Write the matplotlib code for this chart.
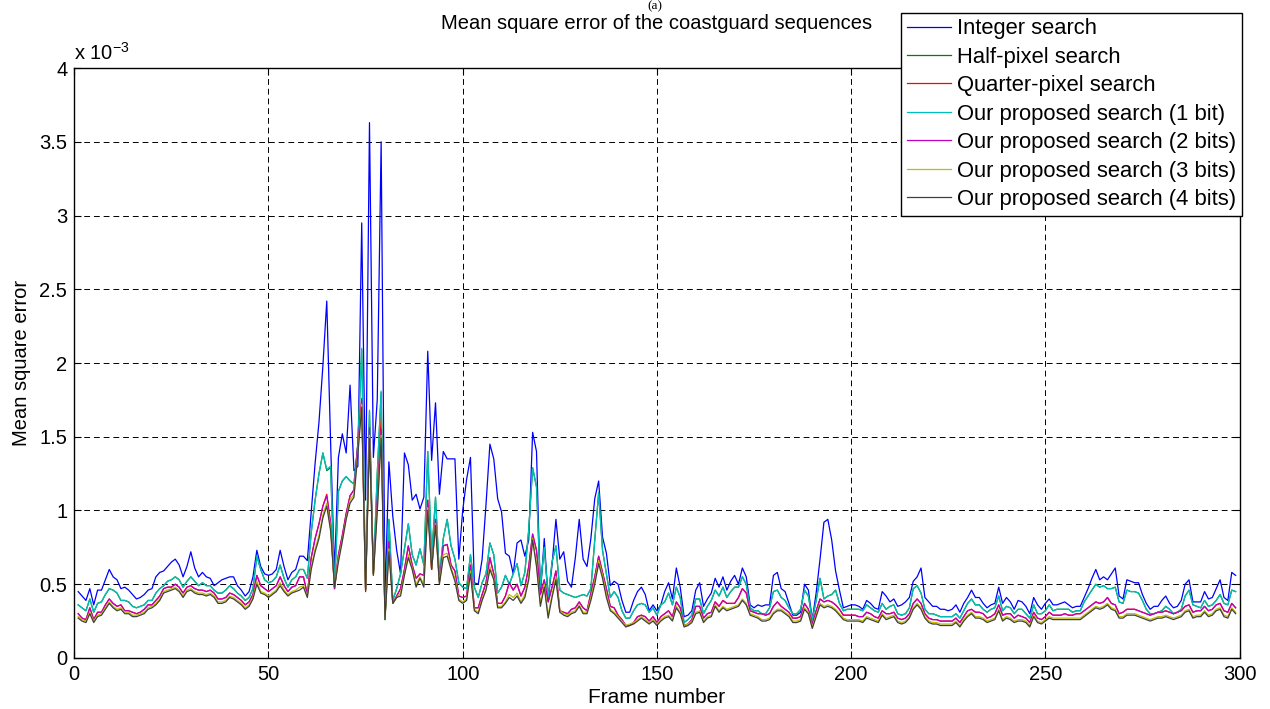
import matplotlib as mpl
mpl.use('Agg')
import matplotlib.pyplot as plt

plt.rcParams['font.family'] = ['Liberation Sans', 'DejaVu Sans']

# frame index (1..299), MSE values in units of 1e-3
frames = list(range(1, 300))

integer_search = [
    0.45, 0.42, 0.39, 0.47, 0.36, 0.46, 0.46, 0.53, 0.60, 0.55,
    0.53, 0.47, 0.48, 0.46, 0.43, 0.40, 0.41, 0.43, 0.46, 0.47,
    0.55, 0.58, 0.59, 0.62, 0.65, 0.67, 0.63, 0.55, 0.62, 0.72,
    0.61, 0.55, 0.58, 0.55, 0.54, 0.49, 0.51, 0.53, 0.54, 0.55,
    0.55, 0.49, 0.46, 0.42, 0.45, 0.55, 0.73, 0.62, 0.57, 0.56,
    0.57, 0.60, 0.73, 0.62, 0.53, 0.58, 0.60, 0.69, 0.69, 0.66,
    0.99, 1.32, 1.60, 1.98, 2.42, 1.45, 0.58, 1.36, 1.52, 1.39,
    1.85, 1.27, 1.30, 2.95, 1.07, 3.63, 1.36, 1.75, 3.50, 0.40,
    1.33, 0.96, 0.73, 0.57, 1.39, 1.31, 1.07, 1.11, 1.01, 1.09,
    2.08, 1.34, 1.73, 1.11, 1.40, 1.35, 1.35, 1.35, 0.67, 1.00,
    1.21, 1.36, 0.51, 0.50, 0.67, 1.04, 1.45, 1.35, 1.08, 0.99,
    0.71, 0.69, 0.57, 0.78, 0.80, 0.69, 0.80, 1.53, 1.40, 0.43,
    0.81, 0.39, 0.63, 0.94, 0.67, 0.72, 0.52, 0.48, 0.68, 0.94,
    0.67, 0.62, 0.81, 1.08, 1.20, 0.82, 0.71, 0.49, 0.52, 0.50,
    0.39, 0.31, 0.31, 0.39, 0.45, 0.48, 0.43, 0.32, 0.36, 0.32,
    0.36, 0.45, 0.51, 0.40, 0.61, 0.48, 0.28, 0.29, 0.32, 0.46,
    0.51, 0.35, 0.40, 0.44, 0.54, 0.48, 0.55, 0.46, 0.52, 0.56,
    0.50, 0.61, 0.55, 0.36, 0.34, 0.36, 0.35, 0.36, 0.36, 0.56,
    0.58, 0.47, 0.45, 0.37, 0.29, 0.29, 0.31, 0.50, 0.46, 0.26,
    0.44, 0.67, 0.92, 0.94, 0.80, 0.59, 0.46, 0.34, 0.35, 0.36,
    0.36, 0.35, 0.33, 0.39, 0.37, 0.34, 0.33, 0.45, 0.42, 0.38,
    0.40, 0.35, 0.36, 0.38, 0.41, 0.52, 0.55, 0.61, 0.41, 0.38,
    0.35, 0.35, 0.33, 0.33, 0.32, 0.33, 0.36, 0.31, 0.37, 0.41,
    0.46, 0.41, 0.41, 0.37, 0.34, 0.36, 0.37, 0.48, 0.37, 0.41,
    0.38, 0.33, 0.39, 0.38, 0.35, 0.30, 0.41, 0.36, 0.33, 0.37,
    0.40, 0.36, 0.36, 0.37, 0.38, 0.36, 0.34, 0.35, 0.35, 0.41,
    0.47, 0.54, 0.60, 0.53, 0.55, 0.53, 0.57, 0.61, 0.42, 0.40,
    0.53, 0.52, 0.51, 0.51, 0.43, 0.37, 0.33, 0.35, 0.35, 0.39,
    0.42, 0.37, 0.34, 0.35, 0.39, 0.50, 0.53, 0.38, 0.38, 0.38,
    0.45, 0.40, 0.41, 0.47, 0.53, 0.41, 0.39, 0.58, 0.56]

half_pixel = [
    0.36, 0.34, 0.32, 0.40, 0.31, 0.37, 0.38, 0.43, 0.47, 0.46,
    0.44, 0.39, 0.39, 0.38, 0.35, 0.34, 0.35, 0.36, 0.39, 0.39,
    0.44, 0.47, 0.49, 0.52, 0.53, 0.55, 0.53, 0.48, 0.52, 0.55,
    0.52, 0.49, 0.51, 0.49, 0.49, 0.46, 0.44, 0.44, 0.46, 0.49,
    0.47, 0.44, 0.42, 0.39, 0.41, 0.47, 0.69, 0.60, 0.53, 0.51,
    0.52, 0.55, 0.63, 0.54, 0.48, 0.53, 0.55, 0.60, 0.60, 0.54,
    0.85, 1.07, 1.25, 1.39, 1.27, 1.29, 0.47, 1.13, 1.20, 1.23,
    1.20, 1.18, 1.45, 2.09, 0.47, 1.67, 0.57, 1.25, 1.80, 0.26,
    0.94, 0.39, 0.47, 0.57, 0.74, 0.91, 0.70, 0.63, 0.74, 0.63,
    1.40, 0.68, 1.09, 0.55, 0.81, 0.94, 0.76, 0.67, 0.51, 0.48,
    0.47, 0.70, 0.48, 0.41, 0.51, 0.57, 0.78, 0.70, 0.44, 0.48,
    0.56, 0.50, 0.57, 0.64, 0.49, 0.58, 0.87, 1.29, 1.16, 0.48,
    0.75, 0.41, 0.65, 0.76, 0.46, 0.44, 0.43, 0.42, 0.41, 0.42,
    0.43, 0.42, 0.47, 0.80, 1.12, 0.73, 0.57, 0.41, 0.45, 0.41,
    0.32, 0.27, 0.27, 0.32, 0.36, 0.37, 0.36, 0.31, 0.34, 0.29,
    0.36, 0.38, 0.44, 0.36, 0.48, 0.41, 0.24, 0.26, 0.29, 0.40,
    0.40, 0.30, 0.35, 0.39, 0.46, 0.42, 0.48, 0.41, 0.45, 0.48,
    0.48, 0.55, 0.50, 0.34, 0.32, 0.32, 0.30, 0.30, 0.34, 0.45,
    0.46, 0.41, 0.39, 0.34, 0.30, 0.30, 0.33, 0.46, 0.42, 0.26,
    0.39, 0.54, 0.40, 0.42, 0.43, 0.46, 0.37, 0.32, 0.33, 0.33,
    0.33, 0.33, 0.32, 0.36, 0.34, 0.32, 0.31, 0.37, 0.33, 0.35,
    0.36, 0.30, 0.29, 0.30, 0.34, 0.47, 0.49, 0.44, 0.33, 0.30,
    0.30, 0.29, 0.28, 0.28, 0.28, 0.28, 0.30, 0.27, 0.32, 0.37,
    0.40, 0.36, 0.36, 0.33, 0.31, 0.33, 0.34, 0.42, 0.32, 0.35,
    0.34, 0.30, 0.33, 0.33, 0.30, 0.27, 0.36, 0.30, 0.30, 0.32,
    0.36, 0.32, 0.33, 0.33, 0.33, 0.33, 0.31, 0.32, 0.32, 0.38,
    0.42, 0.46, 0.50, 0.48, 0.49, 0.47, 0.47, 0.48, 0.38, 0.37,
    0.46, 0.45, 0.45, 0.44, 0.39, 0.33, 0.30, 0.30, 0.31, 0.32,
    0.35, 0.33, 0.30, 0.31, 0.33, 0.42, 0.46, 0.36, 0.35, 0.34,
    0.39, 0.35, 0.36, 0.39, 0.43, 0.37, 0.36, 0.46, 0.45]

quarter_pixel = [
    0.30, 0.27, 0.26, 0.34, 0.26, 0.31, 0.31, 0.36, 0.40, 0.37,
    0.35, 0.36, 0.32, 0.32, 0.31, 0.30, 0.31, 0.33, 0.36, 0.36,
    0.39, 0.42, 0.47, 0.48, 0.48, 0.50, 0.48, 0.44, 0.48, 0.49,
    0.47, 0.46, 0.46, 0.45, 0.46, 0.44, 0.40, 0.40, 0.41, 0.44,
    0.43, 0.41, 0.39, 0.36, 0.38, 0.43, 0.56, 0.49, 0.47, 0.45,
    0.47, 0.49, 0.55, 0.49, 0.45, 0.48, 0.49, 0.55, 0.55, 0.43,
    0.68, 0.81, 0.91, 1.03, 1.11, 0.91, 0.47, 0.70, 0.83, 0.98,
    1.10, 1.14, 1.45, 1.76, 0.46, 1.58, 0.57, 1.07, 1.63, 0.28,
    0.79, 0.37, 0.42, 0.47, 0.60, 0.76, 0.63, 0.54, 0.57, 0.56,
    1.07, 0.60, 0.94, 0.52, 0.76, 0.77, 0.63, 0.59, 0.42, 0.41,
    0.42, 0.63, 0.34, 0.34, 0.43, 0.51, 0.68, 0.57, 0.37, 0.37,
    0.42, 0.51, 0.46, 0.50, 0.42, 0.48, 0.62, 0.84, 0.73, 0.43,
    0.53, 0.38, 0.48, 0.59, 0.32, 0.31, 0.30, 0.33, 0.34, 0.38,
    0.34, 0.32, 0.44, 0.55, 0.69, 0.58, 0.47, 0.35, 0.34, 0.29,
    0.26, 0.22, 0.22, 0.24, 0.28, 0.29, 0.28, 0.25, 0.28, 0.24,
    0.28, 0.30, 0.32, 0.28, 0.38, 0.34, 0.22, 0.23, 0.26, 0.35,
    0.35, 0.27, 0.30, 0.31, 0.38, 0.35, 0.39, 0.37, 0.37, 0.37,
    0.41, 0.47, 0.44, 0.32, 0.31, 0.30, 0.30, 0.29, 0.30, 0.35,
    0.38, 0.35, 0.33, 0.31, 0.27, 0.27, 0.28, 0.37, 0.33, 0.23,
    0.32, 0.40, 0.38, 0.39, 0.38, 0.36, 0.33, 0.29, 0.29, 0.29,
    0.29, 0.28, 0.28, 0.31, 0.30, 0.28, 0.27, 0.32, 0.30, 0.30,
    0.31, 0.27, 0.26, 0.27, 0.30, 0.37, 0.40, 0.37, 0.30, 0.27,
    0.26, 0.26, 0.25, 0.25, 0.25, 0.25, 0.27, 0.24, 0.28, 0.32,
    0.33, 0.31, 0.31, 0.30, 0.27, 0.28, 0.30, 0.36, 0.29, 0.30,
    0.30, 0.27, 0.29, 0.28, 0.27, 0.24, 0.31, 0.27, 0.26, 0.28,
    0.31, 0.29, 0.29, 0.29, 0.30, 0.29, 0.29, 0.30, 0.30, 0.32,
    0.34, 0.36, 0.38, 0.37, 0.38, 0.41, 0.37, 0.36, 0.30, 0.31,
    0.33, 0.33, 0.33, 0.32, 0.31, 0.30, 0.29, 0.30, 0.31, 0.31,
    0.32, 0.31, 0.30, 0.31, 0.32, 0.35, 0.36, 0.31, 0.32, 0.32,
    0.35, 0.32, 0.33, 0.36, 0.37, 0.32, 0.31, 0.37, 0.34]

proposed_1bit = [
    0.36, 0.34, 0.32, 0.40, 0.31, 0.37, 0.38, 0.43, 0.47, 0.46,
    0.44, 0.39, 0.39, 0.38, 0.35, 0.34, 0.35, 0.36, 0.39, 0.39,
    0.44, 0.47, 0.49, 0.52, 0.53, 0.55, 0.53, 0.48, 0.52, 0.55,
    0.52, 0.49, 0.51, 0.49, 0.49, 0.46, 0.44, 0.44, 0.46, 0.49,
    0.47, 0.44, 0.42, 0.39, 0.41, 0.47, 0.69, 0.60, 0.53, 0.51,
    0.52, 0.55, 0.63, 0.54, 0.48, 0.53, 0.55, 0.60, 0.60, 0.54,
    0.85, 1.07, 1.25, 1.39, 1.28, 1.30, 0.47, 1.13, 1.20, 1.23,
    1.20, 1.18, 1.45, 2.10, 0.47, 1.68, 0.57, 1.25, 1.81, 0.26,
    0.94, 0.39, 0.47, 0.57, 0.74, 0.91, 0.70, 0.63, 0.74, 0.63,
    1.40, 0.68, 1.09, 0.55, 0.81, 0.94, 0.76, 0.67, 0.51, 0.48,
    0.47, 0.70, 0.48, 0.41, 0.51, 0.57, 0.78, 0.70, 0.44, 0.48,
    0.56, 0.50, 0.57, 0.64, 0.49, 0.58, 0.87, 1.29, 1.16, 0.48,
    0.75, 0.41, 0.65, 0.76, 0.46, 0.44, 0.43, 0.42, 0.41, 0.42,
    0.43, 0.42, 0.47, 0.80, 1.12, 0.73, 0.57, 0.41, 0.45, 0.41,
    0.32, 0.27, 0.27, 0.32, 0.36, 0.37, 0.36, 0.31, 0.34, 0.29,
    0.36, 0.38, 0.44, 0.36, 0.48, 0.41, 0.24, 0.26, 0.29, 0.40,
    0.40, 0.30, 0.35, 0.39, 0.46, 0.42, 0.48, 0.41, 0.45, 0.48,
    0.48, 0.55, 0.50, 0.34, 0.32, 0.32, 0.30, 0.30, 0.34, 0.45,
    0.46, 0.41, 0.39, 0.34, 0.30, 0.30, 0.33, 0.46, 0.42, 0.26,
    0.39, 0.54, 0.40, 0.42, 0.43, 0.46, 0.37, 0.32, 0.33, 0.33,
    0.33, 0.33, 0.32, 0.36, 0.34, 0.32, 0.31, 0.37, 0.33, 0.35,
    0.36, 0.30, 0.29, 0.30, 0.34, 0.47, 0.49, 0.44, 0.33, 0.30,
    0.30, 0.29, 0.28, 0.28, 0.28, 0.28, 0.30, 0.27, 0.32, 0.37,
    0.40, 0.36, 0.36, 0.33, 0.31, 0.33, 0.34, 0.42, 0.32, 0.35,
    0.34, 0.30, 0.33, 0.33, 0.30, 0.27, 0.36, 0.30, 0.30, 0.32,
    0.36, 0.32, 0.33, 0.33, 0.33, 0.33, 0.31, 0.32, 0.32, 0.38,
    0.42, 0.46, 0.50, 0.48, 0.49, 0.47, 0.47, 0.48, 0.38, 0.37,
    0.46, 0.45, 0.45, 0.44, 0.39, 0.33, 0.30, 0.30, 0.31, 0.32,
    0.35, 0.33, 0.30, 0.31, 0.33, 0.42, 0.46, 0.36, 0.35, 0.34,
    0.39, 0.35, 0.36, 0.39, 0.43, 0.37, 0.36, 0.46, 0.45]

proposed_2bits = [
    0.30, 0.27, 0.26, 0.34, 0.26, 0.31, 0.31, 0.36, 0.40, 0.37,
    0.35, 0.36, 0.32, 0.32, 0.31, 0.30, 0.31, 0.33, 0.36, 0.36,
    0.39, 0.42, 0.47, 0.48, 0.48, 0.50, 0.48, 0.44, 0.48, 0.49,
    0.47, 0.46, 0.46, 0.45, 0.46, 0.44, 0.40, 0.40, 0.41, 0.44,
    0.43, 0.41, 0.39, 0.36, 0.38, 0.43, 0.56, 0.49, 0.47, 0.45,
    0.47, 0.49, 0.55, 0.49, 0.45, 0.48, 0.49, 0.55, 0.55, 0.43,
    0.68, 0.81, 0.91, 1.03, 1.10, 0.91, 0.47, 0.70, 0.83, 0.98,
    1.10, 1.14, 1.45, 1.75, 0.46, 1.56, 0.57, 1.07, 1.55, 0.28,
    0.79, 0.37, 0.42, 0.47, 0.60, 0.76, 0.63, 0.54, 0.57, 0.56,
    1.07, 0.60, 0.94, 0.52, 0.76, 0.77, 0.63, 0.59, 0.42, 0.41,
    0.42, 0.63, 0.34, 0.34, 0.43, 0.51, 0.68, 0.57, 0.37, 0.37,
    0.42, 0.51, 0.46, 0.50, 0.42, 0.48, 0.62, 0.84, 0.73, 0.43,
    0.53, 0.38, 0.48, 0.59, 0.32, 0.31, 0.30, 0.33, 0.34, 0.38,
    0.34, 0.32, 0.44, 0.55, 0.69, 0.58, 0.47, 0.35, 0.34, 0.29,
    0.26, 0.22, 0.22, 0.24, 0.28, 0.29, 0.28, 0.25, 0.28, 0.24,
    0.28, 0.30, 0.32, 0.28, 0.38, 0.34, 0.22, 0.23, 0.26, 0.35,
    0.35, 0.27, 0.30, 0.31, 0.38, 0.35, 0.39, 0.37, 0.37, 0.37,
    0.41, 0.47, 0.44, 0.32, 0.31, 0.30, 0.30, 0.29, 0.30, 0.35,
    0.38, 0.35, 0.33, 0.31, 0.27, 0.27, 0.28, 0.37, 0.33, 0.23,
    0.32, 0.40, 0.38, 0.39, 0.38, 0.36, 0.33, 0.29, 0.29, 0.29,
    0.29, 0.28, 0.28, 0.31, 0.30, 0.28, 0.27, 0.32, 0.30, 0.30,
    0.31, 0.27, 0.26, 0.27, 0.30, 0.37, 0.40, 0.37, 0.30, 0.27,
    0.26, 0.26, 0.25, 0.25, 0.25, 0.25, 0.27, 0.24, 0.28, 0.32,
    0.33, 0.31, 0.31, 0.30, 0.27, 0.28, 0.30, 0.36, 0.29, 0.30,
    0.30, 0.27, 0.29, 0.28, 0.27, 0.24, 0.31, 0.27, 0.26, 0.28,
    0.31, 0.29, 0.29, 0.29, 0.30, 0.29, 0.29, 0.30, 0.30, 0.32,
    0.34, 0.36, 0.38, 0.37, 0.38, 0.41, 0.37, 0.36, 0.30, 0.31,
    0.33, 0.33, 0.33, 0.32, 0.31, 0.30, 0.29, 0.30, 0.31, 0.31,
    0.32, 0.31, 0.30, 0.31, 0.32, 0.35, 0.36, 0.31, 0.32, 0.32,
    0.35, 0.32, 0.33, 0.36, 0.37, 0.32, 0.31, 0.37, 0.34]

proposed_3bits = [
    0.28, 0.26, 0.25, 0.31, 0.25, 0.29, 0.30, 0.34, 0.38, 0.35,
    0.33, 0.34, 0.31, 0.31, 0.29, 0.29, 0.30, 0.31, 0.34, 0.35,
    0.37, 0.40, 0.45, 0.46, 0.47, 0.48, 0.46, 0.42, 0.46, 0.47,
    0.45, 0.44, 0.44, 0.43, 0.44, 0.42, 0.38, 0.38, 0.39, 0.42,
    0.41, 0.39, 0.37, 0.34, 0.36, 0.41, 0.52, 0.45, 0.44, 0.42,
    0.44, 0.46, 0.51, 0.46, 0.43, 0.45, 0.46, 0.48, 0.49, 0.42,
    0.62, 0.74, 0.83, 0.97, 1.05, 0.88, 0.48, 0.67, 0.80, 0.95,
    1.07, 1.11, 1.40, 1.72, 0.45, 1.51, 0.56, 1.01, 1.51, 0.27,
    0.74, 0.37, 0.41, 0.44, 0.57, 0.70, 0.61, 0.50, 0.55, 0.50,
    1.02, 0.60, 0.91, 0.51, 0.70, 0.71, 0.61, 0.54, 0.40, 0.38,
    0.40, 0.59, 0.33, 0.31, 0.40, 0.47, 0.62, 0.54, 0.35, 0.35,
    0.38, 0.43, 0.41, 0.44, 0.38, 0.43, 0.55, 0.81, 0.64, 0.37,
    0.50, 0.29, 0.43, 0.55, 0.32, 0.30, 0.29, 0.31, 0.32, 0.36,
    0.31, 0.31, 0.41, 0.52, 0.66, 0.56, 0.43, 0.33, 0.31, 0.28,
    0.25, 0.22, 0.23, 0.24, 0.26, 0.28, 0.26, 0.24, 0.26, 0.23,
    0.26, 0.28, 0.29, 0.26, 0.35, 0.31, 0.22, 0.23, 0.25, 0.31,
    0.32, 0.25, 0.28, 0.29, 0.36, 0.32, 0.35, 0.33, 0.34, 0.35,
    0.36, 0.40, 0.37, 0.30, 0.29, 0.28, 0.26, 0.26, 0.27, 0.31,
    0.33, 0.33, 0.31, 0.29, 0.25, 0.25, 0.26, 0.34, 0.31, 0.21,
    0.29, 0.37, 0.35, 0.36, 0.35, 0.33, 0.30, 0.27, 0.26, 0.26,
    0.26, 0.26, 0.25, 0.28, 0.27, 0.26, 0.25, 0.30, 0.27, 0.28,
    0.29, 0.25, 0.24, 0.25, 0.28, 0.34, 0.37, 0.34, 0.28, 0.25,
    0.24, 0.24, 0.23, 0.23, 0.23, 0.23, 0.25, 0.22, 0.26, 0.29,
    0.31, 0.28, 0.28, 0.27, 0.25, 0.26, 0.27, 0.33, 0.26, 0.28,
    0.27, 0.25, 0.26, 0.26, 0.25, 0.22, 0.29, 0.25, 0.24, 0.26,
    0.28, 0.27, 0.27, 0.27, 0.27, 0.27, 0.27, 0.27, 0.27, 0.29,
    0.31, 0.33, 0.35, 0.34, 0.35, 0.37, 0.34, 0.33, 0.28, 0.28,
    0.30, 0.30, 0.30, 0.29, 0.28, 0.27, 0.26, 0.27, 0.28, 0.28,
    0.29, 0.28, 0.27, 0.28, 0.29, 0.32, 0.33, 0.28, 0.29, 0.29,
    0.32, 0.29, 0.30, 0.33, 0.34, 0.29, 0.28, 0.34, 0.31]

proposed_4bits = [
    0.27, 0.25, 0.24, 0.30, 0.24, 0.28, 0.29, 0.33, 0.37, 0.34,
    0.32, 0.33, 0.30, 0.30, 0.28, 0.28, 0.29, 0.30, 0.33, 0.34,
    0.36, 0.39, 0.44, 0.45, 0.46, 0.47, 0.45, 0.41, 0.45, 0.46,
    0.44, 0.43, 0.43, 0.42, 0.43, 0.41, 0.37, 0.37, 0.38, 0.41,
    0.40, 0.38, 0.36, 0.33, 0.35, 0.40, 0.50, 0.44, 0.43, 0.41,
    0.43, 0.45, 0.49, 0.45, 0.42, 0.44, 0.45, 0.46, 0.48, 0.41,
    0.60, 0.72, 0.81, 0.95, 1.03, 0.86, 0.48, 0.65, 0.79, 0.94,
    1.05, 1.09, 1.38, 1.70, 0.45, 1.49, 0.56, 0.99, 1.49, 0.26,
    0.72, 0.37, 0.41, 0.42, 0.56, 0.68, 0.60, 0.48, 0.54, 0.48,
    1.00, 0.60, 0.90, 0.50, 0.68, 0.69, 0.60, 0.52, 0.39, 0.37,
    0.39, 0.57, 0.32, 0.30, 0.39, 0.46, 0.60, 0.53, 0.34, 0.34,
    0.37, 0.41, 0.39, 0.42, 0.37, 0.41, 0.53, 0.80, 0.62, 0.35,
    0.48, 0.27, 0.41, 0.53, 0.31, 0.29, 0.28, 0.30, 0.31, 0.35,
    0.30, 0.30, 0.39, 0.50, 0.64, 0.54, 0.41, 0.32, 0.30, 0.27,
    0.24, 0.21, 0.22, 0.23, 0.25, 0.27, 0.25, 0.23, 0.25, 0.22,
    0.25, 0.27, 0.28, 0.25, 0.34, 0.30, 0.21, 0.22, 0.24, 0.30,
    0.31, 0.24, 0.27, 0.28, 0.35, 0.31, 0.34, 0.32, 0.33, 0.34,
    0.35, 0.39, 0.36, 0.29, 0.28, 0.27, 0.25, 0.25, 0.26, 0.30,
    0.32, 0.32, 0.30, 0.28, 0.24, 0.24, 0.25, 0.33, 0.30, 0.20,
    0.28, 0.36, 0.34, 0.35, 0.34, 0.32, 0.29, 0.26, 0.25, 0.25,
    0.25, 0.25, 0.24, 0.27, 0.26, 0.25, 0.24, 0.29, 0.26, 0.27,
    0.28, 0.24, 0.23, 0.24, 0.27, 0.33, 0.36, 0.33, 0.27, 0.24,
    0.23, 0.23, 0.22, 0.22, 0.22, 0.22, 0.24, 0.21, 0.25, 0.28,
    0.30, 0.27, 0.27, 0.26, 0.24, 0.25, 0.26, 0.32, 0.25, 0.27,
    0.26, 0.24, 0.25, 0.25, 0.24, 0.21, 0.28, 0.24, 0.23, 0.25,
    0.27, 0.26, 0.26, 0.26, 0.26, 0.26, 0.26, 0.26, 0.26, 0.28,
    0.30, 0.32, 0.34, 0.33, 0.34, 0.36, 0.33, 0.32, 0.27, 0.27,
    0.29, 0.29, 0.29, 0.28, 0.27, 0.26, 0.25, 0.26, 0.27, 0.27,
    0.28, 0.27, 0.26, 0.27, 0.28, 0.31, 0.32, 0.27, 0.28, 0.28,
    0.31, 0.28, 0.29, 0.32, 0.33, 0.28, 0.27, 0.33, 0.30]

labels = ['Integer search', 'Half-pixel search', 'Quarter-pixel search',
          'Our proposed search (1 bit)', 'Our proposed search (2 bits)',
          'Our proposed search (3 bits)', 'Our proposed search (4 bits)']
series = [integer_search, half_pixel, quarter_pixel, proposed_1bit,
          proposed_2bits, proposed_3bits, proposed_4bits]
colors = [(0, 0, 1), (0, 0.5, 0), (1, 0, 0), (0, 0.75, 0.75),
          (0.75, 0, 0.75), (0.75, 0.75, 0), (0.25, 0.25, 0.25)]

fig = plt.figure(figsize=(12.7, 7.09), dpi=100)
ax = fig.add_axes([0.0585, 0.072, 0.9175, 0.832])

for vals, lab, c in zip(series, labels, colors):
    ax.plot(frames, vals, color=c, lw=0.9, label=lab)

ax.set_xlim(0, 300)
ax.set_ylim(0, 4)
ax.set_xticks(range(0, 301, 50))
ax.set_yticks([0, 0.5, 1, 1.5, 2, 2.5, 3, 3.5, 4])
ax.set_yticklabels(['0', '0.5', '1', '1.5', '2', '2.5', '3', '3.5', '4'])
ax.tick_params(direction='in', top=True, right=True, labelsize=14.5, length=5, pad=5)
ax.grid(True, color='black', linestyle=(0, (6, 4)), linewidth=0.7)
for s in ax.spines.values():
    s.set_linewidth(1.0)

ax.set_xlabel('Frame number', fontsize=15, labelpad=3)
ax.set_ylabel('Mean square error', fontsize=14.5, labelpad=6)
ax.text(0.0, 1.008, r'x 10$^{\mathregular{-3}}$', transform=ax.transAxes, fontsize=14.5,
        ha='left', va='bottom')
ax.set_title('Mean square error of the coastguard sequences', fontsize=14.5, pad=28)
fig.text(0.516, 0.999, '(a)', family='Liberation Serif', fontsize=9.5,
         ha='center', va='top')

leg = fig.legend(loc='upper right', bbox_to_anchor=(0.978, 0.982), fontsize=15.8,
                 frameon=True, fancybox=False, edgecolor='black', framealpha=1,
                 handlelength=2.0, labelspacing=0.34, borderpad=0.25,
                 handletextpad=0.3, borderaxespad=0)
leg.get_frame().set_linewidth(1.0)

fig.savefig('out.png', dpi=100)
